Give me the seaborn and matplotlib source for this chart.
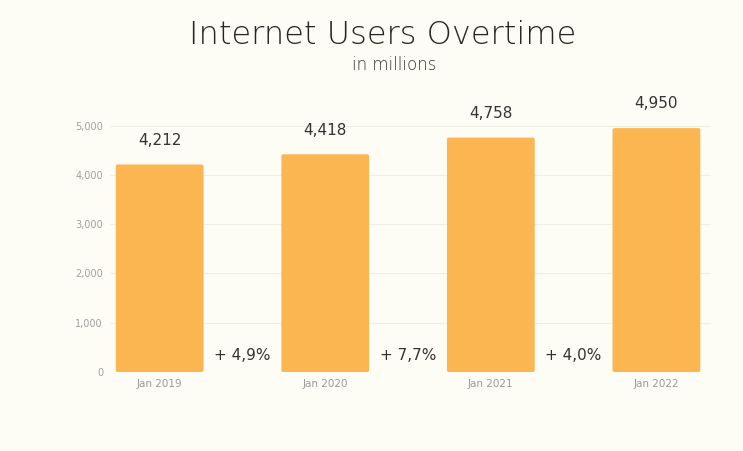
import matplotlib
matplotlib.use("Agg")
import matplotlib.pyplot as plt
from matplotlib.patches import FancyBboxPatch
import seaborn as sns
import pandas as pd

categories = ["Jan 2019", "Jan 2020", "Jan 2021", "Jan 2022"]
users = [4212, 4418, 4758, 4950]
value_labels = ["4,212", "4,418", "4,758", "4,950"]
growth_labels = ["+ 4,9%", "+ 7,7%", "+ 4,0%"]
yticks = [0, 1000, 2000, 3000, 4000, 5000]
ytick_labels = ["0", "1,000", "2,000", "3,000", "4,000", "5,000"]

sns.set_theme(style="white")
plt.rcParams['font.family'] = ['DejaVu Sans']

bg = "#FDFDF6"
bar_color = "#FBB652"

fig = plt.figure(figsize=(7.43, 4.51), dpi=100, facecolor=bg)
ax = fig.add_axes([0.148, 0.175, 0.809, 0.612])
ax.set_facecolor(bg)

df = pd.DataFrame({"month": categories, "users": users})
sns.barplot(data=df, x="month", y="users", color=bar_color, saturation=1,
            width=0.53, ax=ax, zorder=3)

ax.set_xlim(-0.30, 3.33)
ax.set_ylim(0, 5600)

# round the bar corners slightly
for p in list(ax.patches):
    x0, y0, w, h = p.get_x(), p.get_y(), p.get_width(), p.get_height()
    rp = FancyBboxPatch((x0, y0), w, h,
                        boxstyle="round,pad=0,rounding_size=0.012",
                        mutation_aspect=5600 / 0.612 / 451 * 0.809 * 743 / 3.63,
                        facecolor=bar_color, edgecolor="none", zorder=3)
    p.remove()
    ax.add_patch(rp)

ax.set_yticks(yticks)
ax.set_yticklabels(ytick_labels)
ax.yaxis.grid(True, color="#EFEFE6", linewidth=0.8, zorder=0)
ax.tick_params(axis="y", labelsize=7, colors="#A0A0A0", length=0, pad=5)
ax.tick_params(axis="x", labelsize=7.5, colors="#999999", length=0, pad=5)
ax.set_xlabel("")
ax.set_ylabel("")
for s in ax.spines.values():
    s.set_visible(False)

for i, (v, lab) in enumerate(zip(users, value_labels)):
    ax.annotate(lab, (i, v), xytext=(0, 12), textcoords="offset points",
                ha="center", va="bottom", fontsize=11, color="#333333")

for i, lab in enumerate(growth_labels):
    ax.text(i + 0.5, 330, lab, ha="center", va="center", fontsize=11,
            color="#333333", zorder=4)

fig.text(0.515, 0.922, "Internet Users Overtime", ha="center", va="center",
         fontsize=23, color="#262626", fontweight="light")
fig.text(0.53, 0.856, "in millions", ha="center", va="center",
         fontsize=12, color="#333333", fontweight="light")

fig.savefig("out.png", dpi=100, facecolor=bg)
